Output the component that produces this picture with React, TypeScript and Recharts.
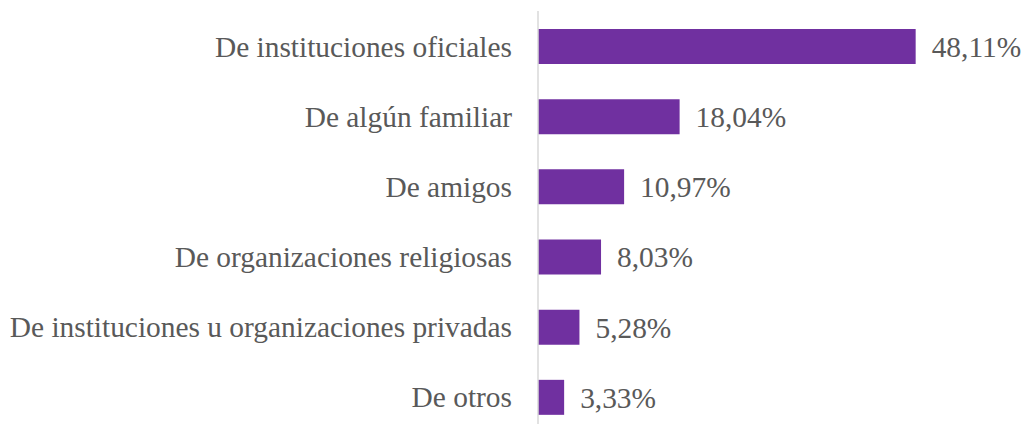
import { Bar, BarChart, LabelList, XAxis, YAxis } from 'recharts'

const CATEGORIES = [
  'De instituciones oficiales',
  'De algún familiar',
  'De amigos',
  'De organizaciones religiosas',
  'De instituciones u organizaciones privadas',
  'De otros',
]
const VALUES = [48.11, 18.04, 10.97, 8.03, 5.28, 3.33]

const data = CATEGORIES.map((name, i) => ({ name, value: VALUES[i] }))

const fmt = (v: unknown) => `${Number(v).toFixed(2).replace('.', ',')}%`

const font = '"Liberation Serif", "Times New Roman", serif'

export default function App() {
  return (
    <div style={{ position: 'fixed', top: 0, left: 0, background: '#fff' }}>
      <BarChart
        width={1022}
        height={440}
        data={data}
        layout="vertical"
        margin={{ top: 11, right: 13, bottom: 8, left: 0 }}
        barSize={35}
      >
        <XAxis type="number" domain={[0, 60]} hide />
        <YAxis
          type="category"
          dataKey="name"
          width={538}
          tickLine={false}
          tickSize={0}
          tickMargin={26}
          axisLine={{ stroke: '#d9d9d9', strokeWidth: 1.5 }}
          tick={{ fill: '#595959', fontSize: 29.4, fontFamily: font }}
          interval={0}
        />
        <Bar dataKey="value" fill="#7030a0" isAnimationActive={false}>
          <LabelList
            dataKey="value"
            position="right"
            offset={16}
            formatter={fmt}
            fill="#595959"
            fontSize={29.4}
            fontFamily={font}
          />
        </Bar>
      </BarChart>
    </div>
  )
}
